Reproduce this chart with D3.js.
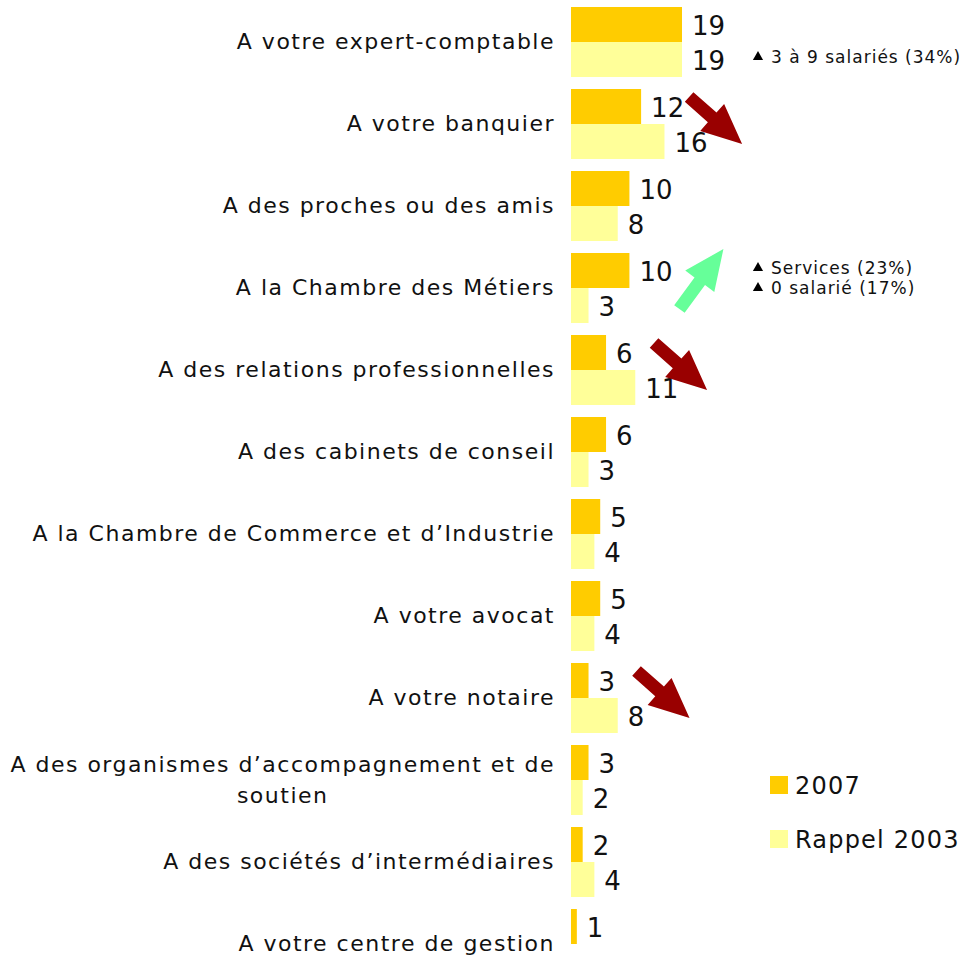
<!DOCTYPE html>
<html>
<head>
<meta charset="utf-8">
<script src="https://cdn.jsdelivr.net/npm/d3@7"></script>
<style>
  body { margin: 0; background: #fff; }
  svg { display: block; font-family: "DejaVu Sans", Verdana, sans-serif; }
</style>
</head>
<body>
<svg width="976" height="967"></svg>
<script>
// categories (top to bottom)
const categories = [
  "A votre expert-comptable",
  "A votre banquier",
  "A des proches ou des amis",
  "A la Chambre des Métiers",
  "A des relations professionnelles",
  "A des cabinets de conseil",
  "A la Chambre de Commerce et d’Industrie",
  "A votre avocat",
  "A votre notaire",
  "A des organismes d’accompagnement et de soutien",
  "A des sociétés d’intermédiaires",
  "A votre centre de gestion"
];
const values2007 = [19, 12, 10, 10, 6, 6, 5, 5, 3, 3, 2, 1];
const values2003 = [19, 16, 8, 3, 11, 3, 4, 4, 8, 2, 4, null];
const seriesNames = ["2007", "Rappel 2003"];

// trend arrows + side notes
const arrows = [
  { cat: "A votre banquier", dir: "down" },
  { cat: "A la Chambre des Métiers", dir: "up" },
  { cat: "A des relations professionnelles", dir: "down" },
  { cat: "A votre notaire", dir: "down" }
];
const notes = [
  { cat: "A votre expert-comptable", lines: ["3 à 9 salariés (34%)"] },
  { cat: "A la Chambre des Métiers", lines: ["Services (23%)", "0 salarié (17%)"] }
];

const colors = ["#FFCC00", "#FFFF99"];

const svg = d3.select("svg");

const x = d3.scaleLinear().domain([0, 19]).range([571, 682]);
const y = d3.scaleBand().domain(categories).range([7, 979]).paddingInner(12 / 82).paddingOuter(0);
const sub = d3.scaleBand().domain([0, 1]).range([0, y.bandwidth()]);

const rows = categories.map((c, i) => ({ cat: c, vals: [values2007[i], values2003[i]] }));

const g = svg.selectAll("g.row").data(rows).join("g")
  .attr("class", "row")
  .attr("transform", d => "translate(0," + y(d.cat) + ")");

g.selectAll("rect").data(d => d.vals.map((v, k) => ({ v, k })).filter(e => e.v != null))
  .join("rect")
  .attr("x", x(0))
  .attr("y", e => sub(e.k))
  .attr("width", e => x(e.v) - x(0))
  .attr("height", sub.bandwidth())
  .attr("fill", e => colors[e.k]);

g.selectAll("text.val").data(d => d.vals.map((v, k) => ({ v, k })).filter(e => e.v != null))
  .join("text")
  .attr("class", "val")
  .attr("x", e => x(e.v) + 10)
  .attr("y", e => sub(e.k) + sub.bandwidth() / 2 + 3)
  .attr("dominant-baseline", "middle")
  .attr("font-size", 26)
  .attr("fill", "#111")
  .text(e => e.v);

// category labels, wrapped for the long one
g.each(function (d) {
  const lines = d.cat.length > 42
    ? ["A des organismes d’accompagnement et de", "soutien"]
    : [d.cat];
  const t = d3.select(this).append("text")
    .attr("font-size", 22)
    .attr("letter-spacing", 1.5)
    .attr("fill", "#111")
    .attr("dominant-baseline", "middle");
  const lh = 31;
  const y0 = y.bandwidth() / 2 + 1 - (lines.length - 1) * lh / 2;
  lines.forEach((l, i) => {
    t.append("tspan").attr("x", 555).attr("y", y0 + i * lh).text(l);
  });
  t.attr("text-anchor", "end");
  if (lines.length > 1) {
    // centre the lines on each other inside a right-aligned block
    const spans = t.selectAll("tspan").nodes();
    const w = d3.max(spans, s => s.getComputedTextLength());
    t.attr("text-anchor", "middle");
    spans.forEach(s => d3.select(s).attr("x", 555 - w / 2));
  }
});

// block arrows
function arrowPath(x0, y0, x1, y1, shaft, headW, headL) {
  const dx = x1 - x0, dy = y1 - y0, len = Math.hypot(dx, dy);
  const ux = dx / len, uy = dy / len, nx = -uy, ny = ux;
  const bx = x1 - ux * headL, by = y1 - uy * headL;
  const p = [
    [x0 + nx * shaft / 2, y0 + ny * shaft / 2],
    [bx + nx * shaft / 2, by + ny * shaft / 2],
    [bx + nx * headW / 2, by + ny * headW / 2],
    [x1, y1],
    [bx - nx * headW / 2, by - ny * headW / 2],
    [bx - nx * shaft / 2, by - ny * shaft / 2],
    [x0 - nx * shaft / 2, y0 - ny * shaft / 2]
  ];
  return "M" + p.map(q => q.join(",")).join("L") + "Z";
}

svg.selectAll("path.arrow").data(arrows).join("path")
  .attr("class", "arrow")
  .attr("fill", d => d.dir === "down" ? "#990000" : "#66FF99")
  .attr("d", d => {
    const i = categories.indexOf(d.cat);
    const x0 = x(values2007[i]) + 48;
    const top = y(d.cat);
    if (d.dir === "down") return arrowPath(x0, top + 8, x0 + 53, top + 55, 13, 36, 40);
    return arrowPath(x0 + 2, top + 56, x0 + 46, top - 4, 13, 36, 40);
  });

// side notes
notes.forEach(n => {
  const top = y(n.cat);
  const yy = n.lines.length === 1 ? top + 51 : top + 16;
  n.lines.forEach((l, i) => {
    const cy = yy + i * 20;
    svg.append("path")
      .attr("d", d3.symbol(d3.symbolTriangle, 45)())
      .attr("transform", "translate(758," + (cy - 1) + ")")
      .attr("fill", "#000");
    svg.append("text")
      .attr("x", 771)
      .attr("y", cy)
      .attr("dominant-baseline", "middle")
      .attr("font-size", 17)
      .attr("letter-spacing", 1)
      .attr("fill", "#111")
      .text(l);
  });
});

// legend
const leg = svg.selectAll("g.leg").data(seriesNames).join("g")
  .attr("class", "leg")
  .attr("transform", (d, i) => "translate(770," + (776 + i * 54) + ")");
leg.append("rect").attr("width", 18).attr("height", 18).attr("fill", (d, i) => colors[i]);
leg.append("text")
  .attr("x", 25).attr("y", 11)
  .attr("dominant-baseline", "middle")
  .attr("font-size", 24)
  .attr("letter-spacing", 1.2)
  .attr("fill", "#111")
  .text(d => d);
</script>
</body>
</html>
